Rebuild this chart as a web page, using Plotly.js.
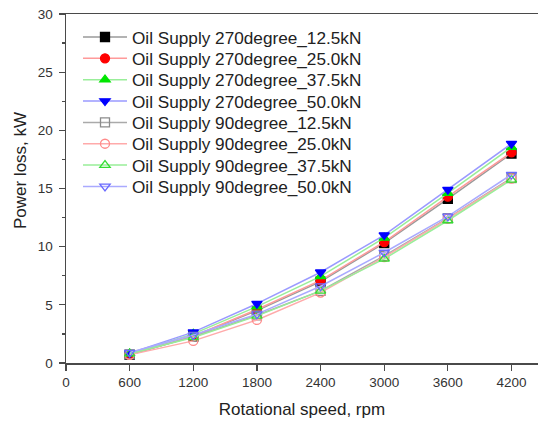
<!DOCTYPE html>
<html>
<head>
<meta charset="utf-8">
<script src="https://cdn.plot.ly/plotly-3.0.1.min.js"></script>
<style>html,body{margin:0;padding:0;overflow:hidden;background:#fff;}#chart{width:538px;height:422px;}</style>
</head>
<body>
<div id="chart"></div>
<script>
// Data
const speeds = [600, 1200, 1800, 2400, 3000, 3600, 4200];
const xTickVals = [0, 600, 1200, 1800, 2400, 3000, 3600, 4200];
const yTickVals = [0, 5, 10, 15, 20, 25, 30];

const names = [
  "Oil Supply 270degree_12.5kN",
  "Oil Supply 270degree_25.0kN",
  "Oil Supply 270degree_37.5kN",
  "Oil Supply 270degree_50.0kN",
  "Oil Supply 90degree_12.5kN",
  "Oil Supply 90degree_25.0kN",
  "Oil Supply 90degree_37.5kN",
  "Oil Supply 90degree_50.0kN"
];

const deg270_12_5 = [0.70, 2.30, 4.50, 7.00, 10.30, 14.10, 18.00];
const deg270_25_0 = [0.70, 2.30, 4.60, 7.10, 10.40, 14.30, 18.10];
const deg270_37_5 = [0.80, 2.50, 4.85, 7.45, 10.75, 14.60, 18.55];
const deg270_50_0 = [0.85, 2.65, 5.10, 7.80, 11.00, 14.90, 18.85];
const deg90_12_5  = [0.75, 2.25, 4.10, 6.20, 9.20, 12.45, 15.90];
const deg90_25_0  = [0.70, 1.90, 3.70, 6.05, 9.10, 12.40, 15.85];
const deg90_37_5  = [0.80, 2.20, 4.05, 6.20, 8.95, 12.25, 15.75];
const deg90_50_0  = [0.90, 2.40, 4.20, 6.60, 9.50, 12.60, 16.20];

const series = [deg270_12_5, deg270_25_0, deg270_37_5, deg270_50_0,
                deg90_12_5, deg90_25_0, deg90_37_5, deg90_50_0];

const symbols = ["square", "circle", "triangle-up", "triangle-down",
                 "square-open", "circle-open", "triangle-up-open", "triangle-down-open"];
const markerColors = ["#000000", "#ff0000", "#00e600", "#0000ff",
                      "#8c8c8c", "#ff8a8a", "#33dd33", "#6a6aff"];
const lineColors = ["#9a9a9a", "#ff9a9a", "#99ee99", "#9a9aff",
                    "#aaaaaa", "#ffaaaa", "#99ee99", "#aaaaff"];

// one legend per entry so the entry spacing can follow the reference
const legendIds = series.map((_, i) => i === 0 ? "legend" : "legend" + (i + 1));

const traces = series.map((ys, i) => ({
  x: speeds,
  y: ys,
  name: names[i],
  legend: legendIds[i],
  type: "scatter",
  mode: "lines+markers",
  line: {color: lineColors[i], width: 1.5},
  marker: {symbol: symbols[i], size: 9, color: markerColors[i],
           line: {color: markerColors[i], width: 1.3}}
}));

const axisColor = "#4a4a4a";
const plotTop = 14, plotBottom = 363, plotH = plotBottom - plotTop, plotL = 66, plotW = 538 - 66;
const legendRowPx = 37.3, legendStepPx = 21.35;

const layout = {
  width: 538,
  height: 422,
  margin: {l: plotL, r: 0, t: plotTop, b: 422 - plotBottom, pad: 0},
  paper_bgcolor: "#ffffff",
  plot_bgcolor: "#ffffff",
  font: {family: "Liberation Sans, Arial, sans-serif", color: "#333333"},
  showlegend: true,
  xaxis: {
    range: [0, 4450],
    tickvals: xTickVals,
    ticktext: xTickVals.map(String),
    showgrid: false,
    zeroline: false,
    showline: true,
    mirror: true,
    linecolor: axisColor,
    linewidth: 1.5,
    ticks: "outside",
    ticklen: 6,
    tickwidth: 1.3,
    tickcolor: axisColor,
    tickfont: {size: 13.5, color: "#333333"},
    automargin: false,
    title: {text: "Rotational speed, rpm", font: {size: 17, color: "#222222"}, standoff: 14}
  },
  yaxis: {
    range: [0, 30],
    tickvals: yTickVals,
    ticktext: yTickVals.map(String),
    showgrid: false,
    zeroline: false,
    showline: true,
    mirror: false,
    linecolor: axisColor,
    linewidth: 1.5,
    ticks: "outside",
    ticklen: 6,
    tickwidth: 1.3,
    tickcolor: axisColor,
    ticklabelstandoff: 3,
    tickfont: {size: 13.5, color: "#333333"},
    minor: {dtick: 2.5, tick0: 0, ticks: "outside", ticklen: 3, tickwidth: 1.2, tickcolor: axisColor, showgrid: false},
    automargin: false
  },
  annotations: [{
    text: "Power loss, kW",
    xref: "paper", yref: "paper",
    x: -46 / plotW, y: 0.55,
    xanchor: "center", yanchor: "middle",
    textangle: -90,
    showarrow: false,
    font: {size: 17, color: "#222222"}
  }]
};

legendIds.forEach((id, i) => {
  const py = legendRowPx + i * legendStepPx;
  layout[id] = {
    x: (78 - plotL) / plotW,
    y: (plotBottom - py) / plotH,
    xanchor: "left", yanchor: "middle",
    bgcolor: "rgba(255,255,255,0)",
    borderwidth: 0,
    font: {size: 17.2, color: "#222222"},
    itemwidth: 44
  };
});

Plotly.newPlot("chart", traces, layout, {displayModeBar: false, staticPlot: true});
</script>
</body>
</html>
